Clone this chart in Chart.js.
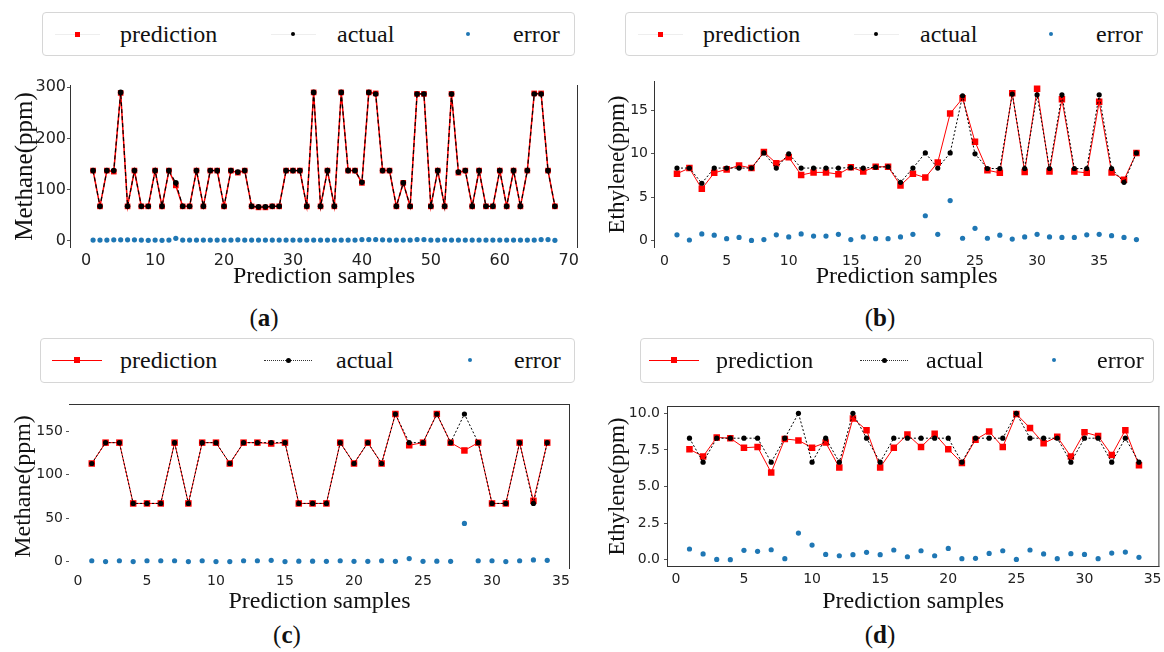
<!DOCTYPE html>
<html>
<head>
<meta charset="utf-8">
<title>Methane / Ethylene prediction</title>
<script src="https://cdn.jsdelivr.net/npm/chart.js@4.4.1/dist/chart.umd.min.js"></script>
<style>
  html, body { margin: 0; padding: 0; background: #fff; }
  #page { position: relative; width: 1164px; height: 652px; overflow: hidden;
          font-family: "Liberation Serif", "DejaVu Serif", serif; color: #111; }
  canvas { position: absolute; }
  .legend { position: absolute; box-sizing: border-box; border: 1px solid #d6d6d6;
            border-radius: 4px; background: #fff; }
  .lg-line { position: absolute; height: 0; }
  .lg-mark { position: absolute; }
  .lg-text { position: absolute; font-size: 24px; line-height: 24px; white-space: nowrap; }
  .tag { position: absolute; font-size: 25px; line-height: 26px; width: 60px; margin-left: -30px; text-align: center; }
</style>
</head>
<body>
<div id="page">
  <canvas id="chart-a" width="590" height="240" style="left:0;top:60px"></canvas>
  <canvas id="chart-b" width="574" height="240" style="left:590px;top:60px"></canvas>
  <canvas id="chart-c" width="590" height="235" style="left:0;top:380px"></canvas>
  <canvas id="chart-d" width="574" height="235" style="left:590px;top:380px"></canvas>
  <div class="tag" style="left:264px;top:305px">(<b>a</b>)</div>
  <div class="tag" style="left:880px;top:305px">(<b>b</b>)</div>
  <div class="tag" style="left:287px;top:622px">(<b>c</b>)</div>
  <div class="tag" style="left:880px;top:622px">(<b>d</b>)</div>
</div>
<script>
const seriesNames = ['prediction', 'actual', 'error'];
const xTitle = 'Prediction samples';

// (a) methane, 68 samples
const actualA = [137, 67, 137, 137, 290, 67, 137, 67, 67, 137,
  67, 137, 113, 67, 67, 137, 67, 137, 137, 67,
  137, 134, 137, 67, 66, 66, 67, 67, 137, 137,
  137, 67, 290, 67, 137, 67, 290, 137, 137, 114,
  290, 287, 137, 137, 67, 113, 67, 287, 287, 67,
  137, 67, 287, 134, 137, 67, 137, 67, 67, 137,
  67, 137, 67, 137, 287, 287, 137, 67];
const predA = [137, 67, 137, 135, 289, 67, 137, 67, 67, 137,
  67, 137, 108, 67, 67, 137, 67, 137, 137, 67,
  137, 133, 137, 67, 65, 65, 67, 67, 137, 137,
  137, 67, 290, 67, 137, 67, 290, 137, 137, 113,
  290, 288, 137, 137, 67, 113, 67, 287, 287, 67,
  137, 67, 287, 133, 137, 67, 137, 67, 67, 137,
  67, 137, 67, 137, 288, 288, 137, 67];
const errorA = [1, 1, 1, 1.5, 1.5, 1.5, 1.5, 1, 0.5, 1,
  0.5, 1, 4.5, 1, 1, 1, 1, 1, 1, 1,
  1, 1.5, 1, 1, 1, 1, 1, 1, 1, 1,
  1, 1, 1, 1, 1, 1, 1, 1, 1, 2,
  2, 2, 1.5, 1, 1, 1, 1, 2, 2, 1,
  1, 1.5, 1, 1, 1, 1, 1, 1, 1, 1,
  1, 1, 1, 1, 1, 2, 2, 0.5];

// (b) ethylene, 38 samples
const actualB = [8.35, 8.35, 6.6, 8.35, 8.35, 8.35, 8.35, 10.1, 8.35, 10.0,
  8.35, 8.35, 8.35, 8.35, 8.4, 8.35, 8.45, 8.5, 6.7, 8.35,
  10.1, 8.35, 10.1, 16.7, 10.0, 8.3, 8.3, 16.9, 8.3, 16.8,
  8.3, 16.8, 8.3, 8.3, 16.8, 8.3, 6.7, 10.1];
const predB = [7.7, 8.35, 5.95, 7.8, 8.2, 8.65, 8.35, 10.2, 8.9, 9.6,
  7.55, 7.85, 7.85, 7.65, 8.45, 7.95, 8.5, 8.5, 6.35, 7.7,
  7.25, 9.0, 14.65, 16.4, 11.4, 8.1, 7.8, 17.0, 7.9, 17.5,
  7.95, 16.3, 7.95, 7.8, 16.0, 7.85, 7.0, 10.1];
const errorB = [0.65, 0.05, 0.75, 0.6, 0.2, 0.35, 0.0, 0.1, 0.65, 0.4,
  0.75, 0.5, 0.5, 0.7, 0.1, 0.4, 0.2, 0.2, 0.4, 0.7,
  2.85, 0.7, 4.6, 0.25, 1.4, 0.25, 0.6, 0.15, 0.4, 0.7,
  0.4, 0.35, 0.35, 0.65, 0.7, 0.55, 0.35, 0.1];

// (c) methane, 34 samples
const actualC = [113, 137, 137, 67, 67, 67, 137, 67, 137, 137,
  113, 137, 137, 137, 137, 67, 67, 67, 137, 113,
  137, 113, 170, 137, 137, 170, 137, 170, 137, 67,
  67, 137, 67, 137];
const predC = [113, 137, 137, 67, 67, 67, 137, 67, 137, 137,
  113, 137, 137, 136, 137, 67, 67, 67, 137, 113,
  137, 113, 170, 134, 137, 170, 137, 128, 137, 67,
  67, 137, 70, 137];
const errorC = [1, 0, 1, 0, 1, 1, 1, 0, 1, 0,
  0, 1, 1, 1.5, 0, 0.5, 0.5, 0.3, 1, 0.3,
  0.3, 1, 0.3, 3.5, 0.3, 0.5, 0.3, 44, 1, 1,
  0, 1, 2, 1.5];

// (d) ethylene, 34 samples
const actualD = [8.3, 6.66, 8.3, 8.3, 8.3, 8.3, 6.66, 8.3, 10, 6.66,
  8.3, 6.66, 10, 8.3, 6.66, 8.3, 8.3, 8.3, 8.3, 8.3,
  6.66, 8.3, 8.3, 8.3, 10, 8.3, 8.3, 8.3, 6.66, 8.3,
  8.3, 6.66, 8.3, 6.66];
const predD = [7.55, 7.05, 8.35, 8.3, 7.65, 7.7, 5.95, 8.25, 8.15, 7.65,
  8.0, 6.3, 9.65, 8.85, 6.3, 7.65, 8.55, 7.7, 8.6, 7.55,
  6.6, 8.2, 8.75, 7.7, 9.95, 9.0, 7.95, 8.4, 7.05, 8.7,
  8.45, 7.15, 8.85, 6.45];
const errorD = [0.73, 0.39, 0.02, 0.0, 0.64, 0.57, 0.68, 0.07, 1.82, 1.0,
  0.36, 0.27, 0.34, 0.5, 0.34, 0.66, 0.2, 0.61, 0.27, 0.77,
  0.07, 0.09, 0.43, 0.61, 0.02, 0.66, 0.39, 0.07, 0.41, 0.36,
  0.07, 0.45, 0.52, 0.16];

// tick values
const xTicksA = [0, 10, 20, 30, 40, 50, 60, 70];
const xTicksBCD = [0, 5, 10, 15, 20, 25, 30, 35];
const yTicksA = [0, 100, 200, 300];
const yTicksB = [0, 5, 10, 15];
const yTicksC = [0, 50, 100, 150];
const yTicksD = [0, 2.5, 5, 7.5, 10];

const RED = '#ff0000';
const BLUE = '#1f77b4';

// draws the matplotlib-like frame lines around the plot area
const spines = {
  id: 'spines',
  afterDraw(chart, args, opts) {
    const {ctx, chartArea: {left, right, top, bottom}} = chart;
    ctx.save();
    ctx.strokeStyle = '#333';
    ctx.lineWidth = 1;
    ctx.beginPath();
    if (opts.left) { ctx.moveTo(left + 0.5, top); ctx.lineTo(left + 0.5, bottom); }
    if (opts.right) { ctx.moveTo(right - 0.5, top); ctx.lineTo(right - 0.5, bottom); }
    if (opts.top) { ctx.moveTo(left, top + 0.5); ctx.lineTo(right, top + 0.5); }
    if (opts.bottom) { ctx.moveTo(left, bottom - 0.5); ctx.lineTo(right, bottom - 0.5); }
    ctx.stroke();
    ctx.restore();
  }
};
Chart.register(spines);

function toPoints(arr) {
  return arr.map((v, i) => ({x: i + 1, y: v}));
}

function createPanel(id, p) {
  const datasets = [
    {
      label: seriesNames[1], data: toPoints(p.actual), order: 0,
      borderColor: '#000', backgroundColor: '#000', borderWidth: p.dense ? 1.2 : 1,
      borderDash: p.dense ? [4, 3] : [2, 2],
      pointStyle: 'circle', pointRadius: p.dense ? 2.8 : 2.6, pointBorderWidth: 0
    },
    {
      label: seriesNames[0], data: toPoints(p.pred), order: 1,
      borderColor: RED, backgroundColor: RED, borderWidth: p.dense ? 1.5 : 1,
      pointStyle: 'rect', pointRadius: p.dense ? 4 : 4.6, pointBorderWidth: 0
    },
    {
      label: seriesNames[2], data: toPoints(p.error), order: 2, showLine: false,
      borderColor: BLUE, backgroundColor: BLUE,
      pointStyle: 'circle', pointRadius: 2.6, pointBorderWidth: 0
    }
  ];

  return new Chart(document.getElementById(id), {
    type: 'line',
    data: {datasets: datasets},
    options: {
      responsive: false,
      animation: false,
      layout: {padding: {top: p.padTop, right: p.padRight, left: 0, bottom: 0}},
      plugins: {
        legend: {display: false},
        tooltip: {enabled: false},
        spines: p.spines
      },
      scales: {
        x: {
          type: 'linear', min: p.xMin, max: p.xMax,
          afterBuildTicks: s => { s.ticks = p.xTicks.map(v => ({value: v})); },
          afterFit: s => { s.height = p.xAxisH; },
          grid: {display: false},
          border: {display: false},
          ticks: {
            padding: p.xTickPad, color: '#222', maxRotation: 0, autoSkip: false,
            font: {family: 'DejaVu Sans', size: p.tickSize, lineHeight: 1},
            callback: v => String(v)
          },
          title: {
            display: true, text: xTitle, color: '#111',
            font: {family: 'Liberation Serif', size: 24, lineHeight: 1},
            padding: {top: 0, bottom: p.xTitlePad}
          }
        },
        y: {
          min: p.yMin, max: p.yMax,
          afterBuildTicks: s => { s.ticks = p.yTicks.map(v => ({value: v})); },
          afterFit: s => { s.width = p.yAxisW; },
          grid: {display: true, color: 'transparent', drawTicks: true, tickLength: 3, tickColor: '#555', tickWidth: 1},
          border: {display: false},
          ticks: {
            padding: p.yTickPad, color: '#222',
            font: {family: 'DejaVu Sans', size: p.tickSize},
            callback: v => p.yDecimals ? v.toFixed(p.yDecimals) : String(v)
          },
          title: {
            display: true, text: p.yTitle, color: '#111',
            font: {family: 'Liberation Serif', size: p.yTitleSize, lineHeight: 1},
            padding: {top: p.yTitlePad, bottom: 0}
          }
        }
      }
    }
  });
}

createPanel('chart-a', {
  actual: actualA, pred: predA, error: errorA, dense: true,
  xMin: -2.35, xMax: 71.35, xTicks: xTicksA, yMin: -14.5, yMax: 304.5, yTicks: yTicksA,
  yTitle: 'Methane(ppm)', yTitleSize: 25, yTitlePad: 12.5, tickSize: 16,
  padTop: 25, padRight: 12, yAxisW: 70, xAxisH: 52, xTickPad: -3, yTickPad: 1, xTitlePad: 11,
  spines: {left: true, right: true}
});
createPanel('chart-b', {
  actual: actualB, pred: predB, error: errorB,
  xMin: -0.85, xMax: 39.85, xTicks: xTicksBCD, yMin: -0.875, yMax: 18.4, yTicks: yTicksB,
  yTitle: 'Ethylene(ppm)', yTitleSize: 23, yTitlePad: 16.5, tickSize: 14,
  padTop: 21, padRight: 0, yAxisW: 64, xAxisH: 52, xTickPad: -2, yTickPad: 3, xTitlePad: 11,
  spines: {left: true}
});
createPanel('chart-c', {
  actual: actualC, pred: predC, error: errorC,
  xMin: -0.65, xMax: 35.65, xTicks: xTicksBCD, yMin: -8.5, yMax: 181.5, yTicks: yTicksC,
  yTitle: 'Methane(ppm)', yTitleSize: 24, yTitlePad: 12, tickSize: 14,
  padTop: 24, padRight: 20, yAxisW: 69, xAxisH: 46, xTickPad: -3, yTickPad: 3, xTitlePad: 1,
  spines: {top: true, right: true}
});
createPanel('chart-d', {
  actual: actualD, pred: predD, error: errorD,
  xMin: -0.65, xMax: 35.5, xTicks: xTicksBCD, yMin: -0.5, yMax: 10.5, yTicks: yTicksD, yDecimals: 1,
  yTitle: 'Ethylene(ppm)', yTitleSize: 23, yTitlePad: 16.5, tickSize: 14,
  padTop: 26, padRight: 2, yAxisW: 77, xAxisH: 48, xTickPad: -3, yTickPad: 4, xTitlePad: 1,
  spines: {left: true, right: true, top: true, bottom: true}
});

// legends (html, one row each)
function addLegend(box, entries) {
  const page = document.getElementById('page');
  const frame = document.createElement('div');
  frame.className = 'legend';
  Object.assign(frame.style, {left: box.x + 'px', top: box.y + 'px', width: box.w + 'px', height: box.h + 'px'});
  page.appendChild(frame);
  entries.forEach(e => {
    if (e.line) {
      const ln = document.createElement('div');
      ln.className = 'lg-line';
      Object.assign(ln.style, {left: (box.x + e.x0) + 'px', top: (box.cy - 0.5) + 'px', width: (e.x1 - e.x0) + 'px', borderTop: e.line});
      page.appendChild(ln);
    }
    const mk = document.createElement('div');
    mk.className = 'lg-mark';
    Object.assign(mk.style, {
      left: (box.x + e.mx - e.size / 2) + 'px', top: (box.cy - e.size / 2) + 'px',
      width: e.size + 'px', height: e.size + 'px', background: e.color,
      borderRadius: e.round ? '50%' : '0'
    });
    page.appendChild(mk);
    const tx = document.createElement('div');
    tx.className = 'lg-text';
    tx.textContent = e.label;
    Object.assign(tx.style, {left: (box.x + e.tx) + 'px', top: (box.cy - 12) + 'px'});
    page.appendChild(tx);
  });
}

// top row: markers only, faint line samples
function topLegend(x0) {
  addLegend({x: x0, y: 12, w: 533, h: 44, cy: 34}, [
    {label: seriesNames[0], color: RED, size: 5, line: '1px solid #eee', x0: 13, x1: 58, mx: 35, tx: 78},
    {label: seriesNames[1], color: '#000', size: 4, round: true, line: '1px solid #eee', x0: 229, x1: 274, mx: 251, tx: 295},
    {label: seriesNames[2], color: BLUE, size: 4, round: true, mx: 426, tx: 471}
  ]);
}
// bottom row: line + marker samples
function bottomLegend(x0, w, off) {
  addLegend({x: x0, y: 338, w: w, h: 45, cy: 360}, [
    {label: seriesNames[0], color: RED, size: 6, line: '1px solid ' + RED, x0: off[0], x1: off[0] + 50, mx: off[0] + 25, tx: off[1]},
    {label: seriesNames[1], color: '#000', size: 5, round: true, line: '1px dotted #333', x0: off[2], x1: off[2] + 48, mx: off[2] + 24, tx: off[3]},
    {label: seriesNames[2], color: BLUE, size: 4, round: true, mx: off[4], tx: off[5]}
  ]);
}
topLegend(42);
topLegend(625);
bottomLegend(40, 535, [12, 80, 224, 296, 430, 474]);
bottomLegend(640, 514, [9, 76, 220, 286, 414, 457]);
</script>
</body>
</html>
